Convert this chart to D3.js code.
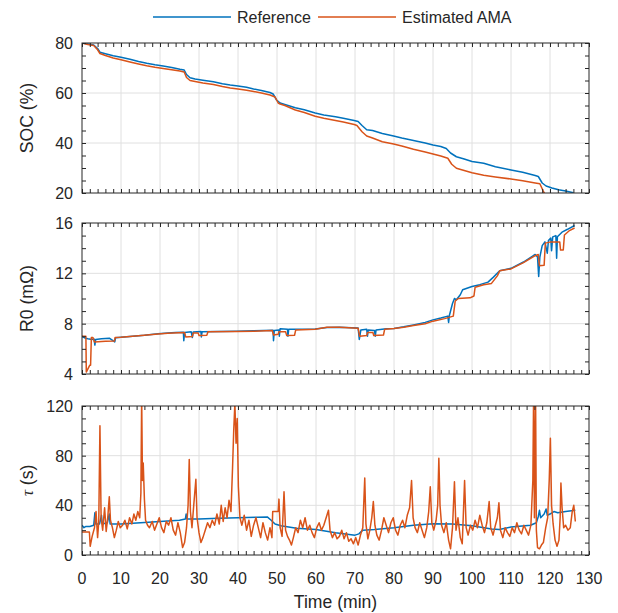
<!DOCTYPE html>
<html lang="en">
<head>
<meta charset="UTF-8">
<title>SOC / R0 / tau estimation</title>
<script src="https://cdn.jsdelivr.net/npm/d3@7"></script>
<style>
    body { margin: 0; background: #fff; }
    svg { display: block; font-family: "Liberation Sans", Arial, Helvetica, sans-serif; }
    .grid line { stroke: #e0e0e0; stroke-width: 1; }
    .tick-in line { stroke: #262626; }
    .tick-in path { display: none; }
    .lbl { fill: #262626; font-size: 16px; }
    .title { fill: #262626; font-size: 17.6px; }
</style>
</head>
<body>
<svg id="chart" width="618" height="613"></svg>
<script>
// series names
const seriesNames = ["Reference", "Estimated AMA"];
const colors = ["#0072BD", "#D95319"];

// x axis
const xTicks = [0, 10, 20, 30, 40, 50, 60, 70, 80, 90, 100, 110, 120, 130];

// SOC (%)
const socRefT = [0, 1.5, 3, 4, 4.6, 6, 8, 10, 12.3, 14.5, 16.6, 18.7, 20.8, 23, 25.1, 26.2, 26.8, 27.7, 29, 31, 33.7, 36, 38, 40, 42.2, 44, 46, 48.2, 49, 49.9, 50.8, 52, 54.7, 57, 59.8, 62, 65, 67, 69.8, 70.8, 71.8, 73, 74.5, 77, 79.9, 82, 85, 88, 90, 92, 93.4, 94.5, 96, 98, 100, 103, 106, 110, 113, 116.2, 117, 118, 119, 120.5, 122.2, 124, 126];
const socRefV = [80, 79.6, 79.2, 77.8, 76.3, 75.7, 74.9, 74.3, 73.5, 72.6, 71.9, 71.3, 70.8, 70.2, 69.5, 69.2, 67.4, 66.1, 65.6, 65.1, 64.5, 63.7, 63.2, 62.8, 62.3, 61.6, 61.0, 60.2, 59.6, 57.2, 56.0, 55.4, 54.1, 53.3, 52.0, 51.2, 50.5, 49.9, 49.0, 48.6, 47.0, 45.3, 45.0, 43.8, 42.8, 42.0, 41.0, 40.0, 39.2, 38.6, 37.8, 36.0, 34.5, 33.6, 32.6, 31.9, 30.5, 29.2, 28.3, 27.0, 26.6, 24.0, 22.8, 22.0, 21.3, 20.8, 20.1];
const socEstT = [0, 1.5, 3, 4, 4.6, 6, 8, 10, 12.3, 14.5, 16.6, 18.7, 20.8, 23, 25.1, 26.2, 26.8, 27.7, 29, 31, 33.7, 36, 38, 40, 42.2, 44, 46, 48.2, 49.5, 50.3, 50.8, 52, 54.7, 57, 59.8, 62, 65, 67, 69.8, 70.5, 71.8, 73, 74.5, 77, 79.9, 82, 85, 88, 90, 92, 93.8, 94.8, 96, 98, 100, 103, 106, 110, 113, 116.2, 117.4, 118.2, 118.7];
const socEstV = [80, 79.4, 79.0, 77.3, 75.8, 75.0, 74.0, 73.3, 72.4, 71.6, 70.9, 70.3, 69.8, 69.3, 68.8, 68.4, 66.2, 65.0, 64.6, 64.0, 63.4, 62.6, 62.0, 61.6, 61.1, 60.6, 60.0, 59.2, 58.4, 56.0, 55.6, 55.0, 53.2, 52.2, 50.7, 49.9, 49.0, 48.4, 47.4, 47.0, 44.5, 42.8, 42.0, 40.5, 39.6, 38.8, 37.5, 36.4, 35.6, 34.8, 33.9, 31.5, 29.9, 29.0, 28.1, 27.1, 26.4, 25.6, 24.9, 24.0, 23.7, 21.0, 19.5];
const socTicks = [20, 40, 60, 80];

// R0 (mOhm)
const r0RefT = [0, 0.8, 1.5, 2.5, 3.1, 3.3, 3.5, 5, 7, 8.4, 8.6, 10, 13, 16, 19.5, 22, 24, 26, 26.1, 26.3, 28, 28.3, 28.5, 30.5, 30.6, 30.8, 35, 39.6, 44, 49, 49.1, 49.3, 50.5, 50.6, 50.8, 52.7, 52.8, 53, 56, 59.8, 62.8, 66, 70.8, 71.1, 71.3, 71.5, 73, 73.2, 73.4, 75, 75.2, 75.4, 78, 80, 82.5, 85, 88, 90, 92, 93.8, 94, 94.2, 95, 95.5, 96, 97, 97.6, 100, 102, 104.1, 105.5, 107.1, 110, 113.2, 116.2, 116.8, 117.1, 117.4, 118, 118.7, 119.3, 119.6, 120.2, 120.4, 120.7, 121.5, 121.7, 121.9, 123.2, 124.5, 126.3];
const r0RefV = [7.0, 6.85, 6.8, 6.75, 6.78, 6.3, 6.75, 6.8, 6.85, 6.55, 6.88, 6.92, 7.0, 7.08, 7.2, 7.26, 7.3, 7.32, 6.65, 7.3, 7.35, 6.9, 7.33, 7.38, 6.95, 7.36, 7.38, 7.4, 7.43, 7.48, 6.65, 7.45, 7.5, 7.0, 7.6, 7.55, 7.0, 7.55, 7.55, 7.58, 7.7, 7.72, 7.66, 6.75, 7.1, 7.5, 7.55, 7.0, 7.5, 7.45, 7.0, 7.5, 7.6, 7.62, 7.75, 7.9, 8.1, 8.3, 8.45, 8.6, 8.1, 8.65, 9.6, 10.0, 9.9, 10.3, 10.7, 10.95, 11.1, 11.3, 11.7, 12.2, 12.4, 12.9, 13.5, 13.3, 11.75, 13.3, 14.2, 14.5, 13.6, 14.6, 14.8, 13.8, 14.9, 15.0, 13.2, 14.9, 15.3, 15.5, 15.8];
const r0EstT = [0, 1.0, 1.1, 2.0, 2.2, 2.4, 2.8, 3.2, 6, 8.3, 8.5, 10, 13, 16, 19.5, 22, 26.3, 26.6, 28.3, 28.5, 29.8, 30, 32, 32.3, 39.6, 44, 48.8, 49.1, 50.3, 50.5, 52.2, 52.5, 54.5, 54.8, 59.8, 62.8, 66, 70.8, 71.2, 73, 73.2, 74.6, 74.8, 77.3, 77.6, 80, 82.5, 85, 88, 90, 93, 95.2, 95.7, 96.5, 99.5, 100.5, 100.8, 103, 105, 106.5, 107.1, 110, 113.2, 116.2, 117, 117.3, 118.5, 118.8, 120.2, 122.5, 122.7, 123.4, 123.7, 125, 126.3];
const r0EstV = [7.0, 7.0, 4.15, 4.7, 4.7, 6.9, 6.9, 6.55, 6.6, 6.62, 6.9, 6.92, 7.0, 7.08, 7.18, 7.24, 7.3, 6.95, 6.98, 7.25, 7.25, 7.05, 7.08, 7.35, 7.38, 7.4, 7.45, 7.1, 7.15, 7.35, 7.35, 7.05, 7.08, 7.5, 7.55, 7.72, 7.72, 7.64, 7.0, 7.05, 7.3, 7.3, 7.05, 7.1, 7.55, 7.62, 7.72, 7.85, 8.0, 8.2, 8.4, 8.6, 9.8, 10.0, 10.05, 10.2, 10.9, 11.1, 11.2, 11.8, 12.2, 12.35, 12.85, 13.4, 13.5, 12.6, 12.65, 14.4, 14.5, 14.5, 13.85, 13.85, 15.05, 15.4, 15.6];
const r0Ticks = [4, 8, 12, 16];

// tau (s)
const tauRefT = [0, 0.5, 1, 2, 3, 3.3, 3.5, 4.5, 5, 5.2, 6.5, 7, 7.2, 10, 15, 20, 25, 26.5, 26.7, 26.9, 30, 35, 40, 45, 47.5, 48.5, 49.5, 51, 55, 60, 65, 70, 71, 72, 75, 80, 85, 90, 95, 100, 105, 107, 110, 115, 116.5, 117, 117.3, 117.6, 118.5, 119, 119.3, 120, 121, 122, 124, 126.5];
const tauRefV = [24, 22, 23, 23, 24, 34, 25, 25, 32, 25, 26, 33, 25, 25, 26, 27, 28, 29, 33, 29, 29, 29.5, 30, 30.5, 30.7, 28, 25, 23.5, 21.5, 20.5, 18, 16, 17, 20, 20.5, 22, 24, 25.2, 25, 23.5, 21, 20.5, 22.5, 24, 26, 31, 36, 30, 33, 37, 32, 33, 35, 34, 35, 36];
const tauEstT = [0, 1, 1.9, 2.1, 2.6, 3.2, 3.6, 4.0, 4.3, 4.6, 4.9, 5.3, 5.8, 6.2, 6.6, 7.0, 7.3, 7.8, 8.3, 8.8, 9.3, 9.8, 10.4, 11, 11.6, 12.2, 12.8, 13.3, 13.8, 14.3, 14.8, 15.1, 15.3, 15.5, 15.7, 16, 16.3, 16.8, 17.3, 18, 18.6, 19.2, 19.8, 20.4, 21, 21.6, 22.2, 22.8, 23.4, 24, 24.6, 25.2, 25.8, 26.3, 26.8, 27.2, 27.5, 27.8, 28.2, 28.7, 29.2, 29.5, 30, 30.5, 31, 31.6, 32.2, 32.8, 33.4, 34, 34.6, 35.2, 35.7, 36.2, 36.7, 37.2, 37.7, 38.2, 38.6, 38.9, 39.2, 39.5, 39.8, 40.1, 40.5, 41, 41.6, 42.2, 42.8, 43.4, 44, 44.6, 45.2, 45.8, 46.4, 47, 47.6, 48.2, 48.7, 48.9, 49.5, 50.3, 50.5, 50.8, 51.3, 51.8, 52.2, 52.7, 53.2, 53.7, 54.2, 54.8, 55.4, 56, 56.6, 57.2, 57.8, 58.4, 59, 59.6, 60.2, 60.8, 61.4, 62, 62.6, 63.2, 63.6, 64.2, 64.8, 65.4, 66, 66.6, 67.2, 67.8, 68.4, 69, 69.6, 70.2, 70.8, 71.4, 72, 72.5, 72.8, 73.3, 73.8, 74.3, 74.7, 75.1, 75.6, 76.2, 76.8, 77.4, 78, 78.6, 79.2, 79.8, 80.4, 81, 81.6, 82.2, 82.8, 83.4, 84, 84.5, 84.9, 85.4, 86, 86.6, 87.2, 87.8, 88.4, 88.9, 89.3, 89.7, 90.2, 90.8, 91.2, 91.5, 91.8, 92.2, 92.8, 93.4, 94, 94.5, 95, 95.5, 95.9, 96.4, 97, 97.5, 98.1, 98.5, 99, 99.6, 100.2, 100.8, 101.4, 102, 102.6, 103.2, 103.8, 104.4, 104.8, 105.4, 106, 106.5, 106.9, 107.3, 107.9, 108.5, 109.1, 109.7, 110.3, 110.9, 111.5, 112.1, 112.7, 113.3, 113.9, 114.5, 115.1, 115.6, 115.8, 116.0, 116.3, 116.5, 116.8, 117.3, 117.8, 118.3, 118.9, 119.4, 119.8, 120.1, 120.4, 120.8, 121.3, 121.8, 122.3, 122.6, 122.8, 123.1, 123.5, 124, 124.6, 125.2, 125.7, 126.1, 126.5];
const tauEstV = [18.5, 18.5, 18.5, 7, 15, 22, 35, 14, 27, 104, 30, 20, 38, 19, 30, 47, 28, 22, 14, 20, 27, 22, 24, 28, 21, 30, 25, 33, 28, 35, 30, 50, 128, 60, 74, 45, 28, 24, 22, 27, 20, 25, 30, 22, 18, 27, 24, 30, 20, 16, 26, 18, 6, 10, 22, 40, 77, 35, 22, 42, 61, 30, 18, 10, 14, 20, 26, 22, 28, 24, 33, 25, 40, 27, 38, 30, 44, 35, 70, 100, 122, 90, 110, 55, 30, 24, 32, 20, 28, 15, 24, 30, 22, 14, 26, 18, 12, 22, 14, 35, 35, 35, 45, 22, 15, 51, 20, 15, 12, 8, 14, 22, 18, 28, 22, 30, 20, 24, 18, 14, 22, 26, 20, 24, 30, 36, 20, 14, 18, 13, 15, 20, 13, 18, 11, 13, 9, 14, 8, 16, 22, 62, 25, 13, 20, 30, 43, 24, 16, 12, 20, 30, 24, 18, 26, 30, 20, 16, 24, 28, 22, 32, 38, 60, 30, 22, 18, 26, 20, 14, 22, 35, 55, 26, 20, 28, 40, 78, 40, 24, 18, 26, 12, 5, 22, 59, 20, 30, 14, 9, 60, 22, 16, 24, 20, 28, 22, 32, 24, 18, 26, 43, 22, 16, 24, 30, 42, 20, 14, 22, 18, 15, 22, 18, 26, 20, 17, 24, 20, 16, 24, 60, 130, 30, 130, 20, 6, 5, 8, 10, 22, 30, 60, 94, 40, 25, 12, 7, 12, 30, 58, 38, 22, 24, 20, 22, 35, 40, 27];
const tauTicks = [0, 40, 80, 120];

const svg = d3.select("#chart");
const left = 82, right = 589;

const x = d3.scaleLinear().domain([0, 130]).range([left, right]);
const xMinor = d3.range(0, 131, 2);

const panels = [
    { top: 43, bottom: 193, domain: [20, 80], ticks: socTicks, minor: 5, label: "SOC (%)",
      series: [[socRefT, socRefV], [socEstT, socEstV]] },
    { top: 223, bottom: 374, domain: [4, 16], ticks: r0Ticks, minor: 1, label: "R0 (mΩ)",
      series: [[r0RefT, r0RefV], [r0EstT, r0EstV]] },
    { top: 406, bottom: 555, domain: [0, 120], ticks: tauTicks, minor: 10, label: "tau",
      series: [[tauRefT, tauRefV], [tauEstT, tauEstV]] }
];

panels.forEach((p, i) => {
    const y = d3.scaleLinear().domain(p.domain).range([p.bottom, p.top]);
    const g = svg.append("g");
    const yMinor = d3.range(p.domain[0], p.domain[1] + 0.001, p.minor);

    // grid
    const grid = g.append("g").attr("class", "grid");
    grid.selectAll(".gx").data(xTicks.slice(1, -1)).enter().append("line")
        .attr("x1", d => x(d)).attr("x2", d => x(d))
        .attr("y1", p.top).attr("y2", p.bottom);
    grid.selectAll(".gy").data(p.ticks.slice(1, -1)).enter().append("line")
        .attr("x1", left).attr("x2", right)
        .attr("y1", d => y(d)).attr("y2", d => y(d));

    // clip
    svg.append("clipPath").attr("id", "clip" + i)
        .append("rect").attr("x", left).attr("y", p.top)
        .attr("width", right - left).attr("height", p.bottom - p.top);

    const line = d3.line().x(d => x(d[0])).y(d => y(d[1]));
    p.series.forEach((s, k) => {
        const pts = s[0].map((t, j) => [t, s[1][j]]);
        g.append("path")
            .attr("clip-path", `url(#clip${i})`)
            .attr("d", line(pts))
            .attr("fill", "none")
            .attr("stroke", colors[k])
            .attr("stroke-width", 1.5)
            .attr("stroke-linejoin", "round");
    });

    // inward ticks on all sides
    const tl = 4;
    g.append("g").attr("class", "tick-in").attr("transform", `translate(0,${p.bottom})`)
        .call(d3.axisBottom(x).tickValues(xMinor).tickSize(-tl).tickFormat(""));
    g.append("g").attr("class", "tick-in").attr("transform", `translate(0,${p.top})`)
        .call(d3.axisTop(x).tickValues(xMinor).tickSize(-tl).tickFormat(""));
    g.append("g").attr("class", "tick-in").attr("transform", `translate(${left},0)`)
        .call(d3.axisLeft(y).tickValues(yMinor).tickSize(-tl).tickFormat(""));
    g.append("g").attr("class", "tick-in").attr("transform", `translate(${right},0)`)
        .call(d3.axisRight(y).tickValues(yMinor).tickSize(-tl).tickFormat(""));

    // box
    g.append("rect").attr("x", left).attr("y", p.top)
        .attr("width", right - left).attr("height", p.bottom - p.top)
        .attr("fill", "none").attr("stroke", "#262626").attr("stroke-width", 1);

    // y tick labels
    g.selectAll(".yl").data(p.ticks).enter().append("text")
        .attr("class", "lbl")
        .attr("x", left - 9).attr("y", d => y(d) + 6)
        .attr("text-anchor", "end")
        .text(d => d);

    // y title
    const cy = (p.top + p.bottom) / 2;
    const yt = g.append("text").attr("class", "title")
        .attr("transform", `translate(33,${cy}) rotate(-90)`)
        .attr("text-anchor", "middle");
    if (p.label === "tau") {
        yt.append("tspan").attr("font-family", "'Liberation Serif', 'DejaVu Serif', serif")
            .attr("font-style", "italic").text("τ");
        yt.append("tspan").text(" (s)");
    } else {
        yt.text(p.label);
    }

    if (i === panels.length - 1) {
        g.selectAll(".xl").data(xTicks).enter().append("text")
            .attr("class", "lbl")
            .attr("x", d => x(d)).attr("y", p.bottom + 29)
            .attr("text-anchor", "middle")
            .text(d => d);
        g.append("text").attr("class", "title")
            .attr("x", (left + right) / 2).attr("y", 608)
            .attr("text-anchor", "middle")
            .text("Time (min)");
    }
});

// legend
const legend = svg.append("g");
const legX = [153, 318];
seriesNames.forEach((name, k) => {
    legend.append("line")
        .attr("x1", legX[k]).attr("x2", legX[k] + 78)
        .attr("y1", 17).attr("y2", 17)
        .attr("stroke", colors[k]).attr("stroke-width", 1.3);
    legend.append("text").attr("class", "lbl")
        .attr("x", legX[k] + 84).attr("y", 23)
        .text(name);
});
</script>
</body>
</html>
